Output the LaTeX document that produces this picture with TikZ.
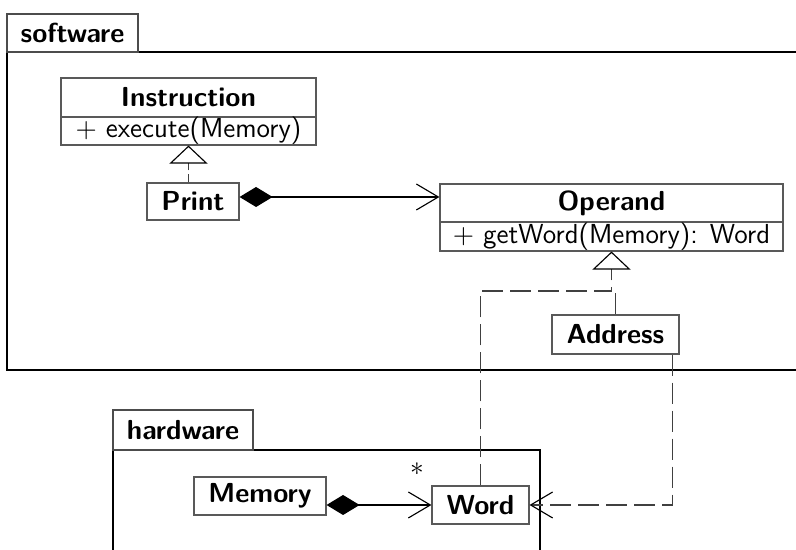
\documentclass[tikz,border=0pt]{standalone}
\usetikzlibrary{arrows.meta,shadows,calc}
\begin{document}
\begin{tikzpicture}[x=0.4pt,y=-0.4pt,
  font=\fontsize{11}{13}\selectfont\sffamily,
  shad/.style={drop shadow={shadow xshift=0.35pt,shadow yshift=-0.45pt,opacity=1,fill=black!75}},
  cls/.style={draw=black!65,fill=white,line width=0.45pt,inner sep=0pt,shad,font=\fontsize{11}{13}\selectfont\sffamily\bfseries},
  ops/.style={draw=black!65,fill=white,line width=0.45pt,inner sep=0pt,shad},
  tab/.style={draw=black!70,fill=white,line width=0.5pt,inner sep=0pt,shad,font=\fontsize{11}{13}\selectfont\sffamily\bfseries},
  frame/.style={draw=black,line width=0.5pt},
  comp/.style={line width=0.45pt,{Diamond[length=13.2pt,width=8pt,fill=black]}-{Straight Barb[length=8.8pt,width=10.4pt,line width=0.45pt]}},
  nav/.style={line width=0.45pt,draw=black!75,dash pattern=on 8.4pt off 2.8pt,-{Straight Barb[length=8.8pt,width=10.4pt,line width=0.45pt,black]}},
  real/.style={line width=0.45pt,draw=black!75,dash pattern=on 8.4pt off 2.8pt,-{Triangle[open,length=7.2pt,width=15.2pt,fill=white,line width=0.45pt,black]}},
  shortreal/.style={line width=0.45pt,draw=black!75,dash pattern=on 3.2pt off 1.6pt,-{Triangle[open,length=7.2pt,width=15.2pt,fill=white,line width=0.45pt,black]}},
  realplain/.style={line width=0.45pt,draw=black!75,dash pattern=on 8.4pt off 2.8pt}]
\useasboundingbox (0,0) rectangle (796,550);
% packages
\draw[frame] (796,52) -- (7,52) -- (7,370) -- (796,370);
\node[tab,minimum width=52.4pt,minimum height=15.2pt] (swtab) at (72.5,33) {software};
\draw[frame] (113,550) -- (113,450) -- (540,450) -- (540,550);
\node[tab,minimum width=56pt,minimum height=16pt] (hwtab) at (183,430) {hardware};
% classes
\node[cls,minimum width=102pt,minimum height=15.6pt] (instr) at (188.5,97.5) {Instruction};
\node[ops,minimum width=102pt,minimum height=11.2pt] (instrops) at (188.5,131) {$+$ execute(Memory)};
\node[cls,minimum width=36.8pt,minimum height=14.8pt] (print) at (193,201.5) {Print};
\node[cls,minimum width=137.2pt,minimum height=15.2pt] (op) at (611.5,203) {Operand};
\node[ops,minimum width=137.2pt,minimum height=11.6pt] (opops) at (611.5,236.5) {$+$ getWord(Memory): Word};
\node[cls,minimum width=50.8pt,minimum height=15.6pt] (address) at (615.5,334.5) {Address};
\node[cls,minimum width=52.8pt,minimum height=15.2pt] (memory) at (260,496) {Memory};
\node[cls,minimum width=38.8pt,minimum height=15.2pt] (word) at (480.5,505) {Word};
\coordinate (join) at (611.5,291);
% connectors
\draw[shortreal] (instrops.south |- print.north) -- (instrops.south);
\draw[comp] ([yshift=1.8pt]print.east) -- ([yshift=1.8pt]print.east -| op.west);
\draw[realplain] (address.north) -- (address.north |- join) -- (join);
\draw[real] (word.north) |- (join) -- (opops.south);
\draw[nav] ([xshift=-2.8pt]address.south east) |- (word.east);
\draw[comp] (memory.east |- word.west) -- (word.west);
\node[inner sep=0pt] (mult) at (417,469) {$*$};
\end{tikzpicture}
\end{document}
